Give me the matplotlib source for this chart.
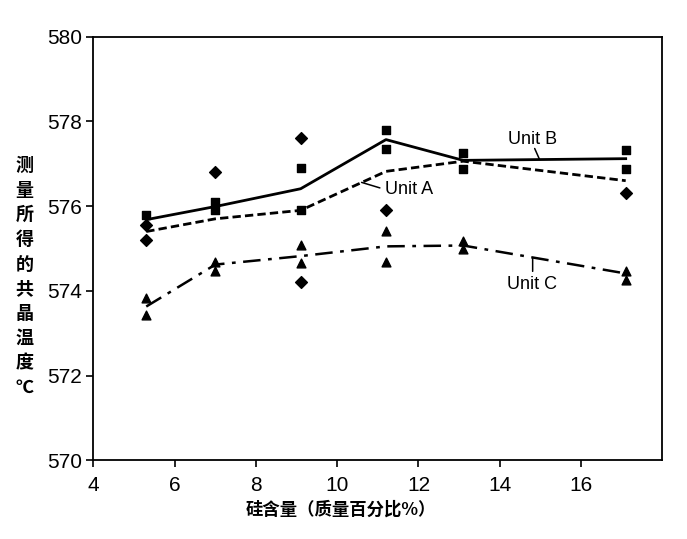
import numpy as np
import matplotlib
matplotlib.use("Agg")
import matplotlib.pyplot as plt

plt.rcParams["font.family"] = ["Liberation Sans", "DejaVu Sans"]

# silicon content positions
x_sq = [5.3, 7.0, 7.0, 9.1, 9.1, 11.2, 11.2, 13.1, 13.1, 17.1, 17.1]
y_sq = [575.8, 576.1, 575.9, 576.9, 575.9, 577.8, 577.35, 577.25, 576.87, 577.33, 576.87]

x_dia = [5.3, 5.3, 7.0, 9.1, 9.1, 11.2, 17.1]
y_dia = [575.55, 575.2, 576.8, 577.6, 574.2, 575.92, 576.32]

x_tri = [5.3, 5.3, 7.0, 7.0, 9.1, 9.1, 11.2, 11.2, 13.1, 13.1, 17.1, 17.1]
y_tri = [573.82, 573.42, 574.69, 574.46, 575.09, 574.65, 575.42, 574.69, 575.18, 574.98, 574.46, 574.25]

x_line = [5.3, 7.0, 9.1, 11.2, 13.1, 17.1]
unit_a = [575.40, 575.70, 575.90, 576.82, 577.06, 576.60]
unit_b = [575.68, 575.99, 576.41, 577.57, 577.08, 577.12]
unit_c = [573.63, 574.62, 574.82, 575.05, 575.07, 574.41]

labels = ["Unit B", "Unit A", "Unit C"]
label_pos = [(14.2, 577.57), (11.17, 576.39), (14.17, 574.15)]
leader_start = [(14.86, 577.36), (11.05, 576.43), (14.81, 574.46)]
leader_end = [(14.98, 577.1), (10.6, 576.56), (14.81, 574.78)]

fig = plt.figure(figsize=(6.87, 5.39), dpi=100)
ax = fig.add_axes([0.136, 0.146, 0.828, 0.786])

ax.plot(x_line, unit_b, color="black", lw=2.0, ls="-")
ax.plot(x_line, unit_a, color="black", lw=2.0, ls=(0, (3, 1.5)))
ax.plot(x_line, unit_c, color="black", lw=1.8, ls=(0, (7, 3, 1.5, 3)))

ax.scatter(x_sq, y_sq, marker="s", s=36, color="black", zorder=3)
ax.scatter(x_dia, y_dia, marker="D", s=36, color="black", zorder=3)
ax.scatter(x_tri, y_tri, marker="^", s=40, color="black", zorder=3)

for lab, pos, st, en in zip(labels, label_pos, leader_start, leader_end):
    ax.text(pos[0], pos[1], lab, fontsize=13, ha="left", va="center")
    ax.annotate("", xy=en, xytext=st,
                arrowprops=dict(arrowstyle="-", color="black", lw=1.1,
                                shrinkA=0, shrinkB=0))

ax.set_xlim(4, 18)
ax.set_ylim(570, 580)
ax.set_xticks([4, 6, 8, 10, 12, 14, 16])
ax.set_yticks([570, 572, 574, 576, 578, 580])
ax.tick_params(direction="out", length=5, width=1.2, labelsize=15, pad=3)
ax.tick_params(axis="x", pad=6)
for sp in ax.spines.values():
    sp.set_linewidth(1.3)

ax.set_xlabel("硅含量（质量百分比%）", family=["Noto Sans CJK SC", "DejaVu Sans"],
              fontsize=12.5, fontweight="bold")
ax.xaxis.set_label_coords(0.435, -0.095)
fig.text(0.036, 0.487, "\n".join("测量所得的共晶温度℃"), family=["Noto Sans CJK SC", "DejaVu Sans"],
         fontsize=13, fontweight="bold", ha="center", va="center", linespacing=1.38)

fig.savefig("out.png", dpi=100)
